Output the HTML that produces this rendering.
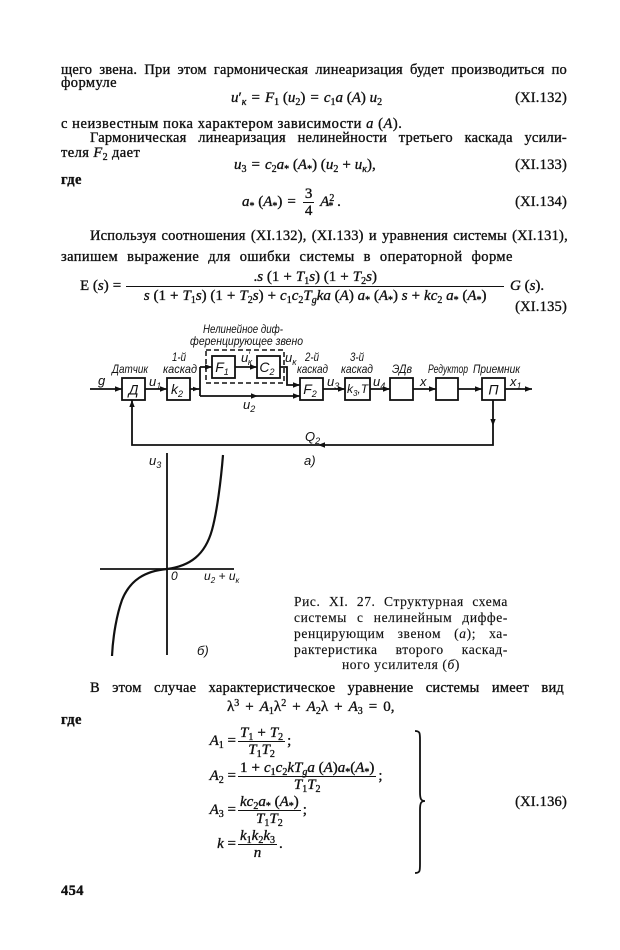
<!DOCTYPE html>
<html><head><meta charset="utf-8">
<style>
html,body{margin:0;padding:0;background:#fff;}
#p{position:relative;width:620px;height:950px;overflow:hidden;background:#fff;color:#111;font-family:"Liberation Serif","DejaVu Serif",serif;font-size:14.5px;-webkit-text-stroke:0.35px #111;}
.t{position:absolute;line-height:16px;height:16px;white-space:nowrap;letter-spacing:0.4px;}
.f{display:flex;justify-content:space-between;letter-spacing:0.2px;}
.f>span{white-space:nowrap;}
.m{font-size:15px;letter-spacing:0;}
i{font-style:italic;}
sub{font-size:10px;vertical-align:-3px;line-height:0;}
sup{font-size:10px;vertical-align:5px;line-height:0;}
.op{padding:0 5px;}
.op6{padding:0 6px;}
.op4{padding:0 4px;}
.eq{position:absolute;display:flex;align-items:center;white-space:nowrap;font-size:15px;}
.eq>span{line-height:16px;}
.fr{display:flex;flex-direction:column;align-items:center;margin:0 2px;}
.fr>.n{line-height:16px;padding:0 2px;}
.fr>.d{line-height:16px;padding:0 2px;border-top:1.2px solid #111;align-self:stretch;text-align:center;}
.big>.n,.big>.d{line-height:18px;}
.c{position:absolute;font-size:13.5px;line-height:16px;height:16px;display:flex;justify-content:space-between;letter-spacing:0.6px;-webkit-text-stroke:0.15px #111;}
.c>span{white-space:nowrap;}
.b{font-weight:bold;}
svg text{font-family:"Liberation Sans","DejaVu Sans",sans-serif;font-style:italic;fill:#111;stroke:none;}
</style></head><body><div id="p">

<div class="t f" style="left:61px;top:61.5px;width:506px"><span>щего</span><span>звена.</span><span>При</span><span>этом</span><span>гармоническая</span><span>линеаризация</span><span>будет</span><span>производиться</span><span>по</span></div>
<div class="t" style="left:61px;top:74.5px">формуле</div>
<div class="t m" style="left:231px;top:89.5px"><i>u</i>′<sub><i>к</i></sub><span class="op">=</span><i>F</i><sub>1</sub> (<i>u</i><sub>2</sub>)<span class="op">=</span><i>c</i><sub>1</sub><i>a</i> (<i>A</i>) <i>u</i><sub>2</sub></div>
<div class="t" style="right:53px;top:89.5px;letter-spacing:0.2px">(XI.132)</div>

<div class="t" style="left:61px;top:115.5px;letter-spacing:0.55px">с неизвестным пока характером зависимости <i>a</i> (<i>A</i>).</div>
<div class="t f" style="left:90px;top:129.5px;width:477px"><span>Гармоническая</span><span>линеаризация</span><span>нелинейности</span><span>третьего</span><span>каскада</span><span>усили-</span></div>
<div class="t" style="left:61px;top:144.5px">теля <i>F</i><sub>2</sub> дает</div>
<div class="t m" style="left:234px;top:156.5px"><i>u</i><sub>3</sub><span class="op">=</span><i>c</i><sub>2</sub><i>a</i><sub>*</sub> (<i>A</i><sub>*</sub>) (<i>u</i><sub>2</sub><span class="op4">+</span><i>u</i><sub><i>к</i></sub>),</div>
<div class="t" style="right:53px;top:156.5px;letter-spacing:0.2px">(XI.133)</div>
<div class="t b" style="left:61px;top:171.5px">где</div>

<div class="eq" style="left:242px;top:185.5px"><span><i>a</i><sub>*</sub> (<i>A</i><sub>*</sub>)<span class="op">=</span></span><span class="fr"><span class="n">3</span><span class="d">4</span></span><span>&nbsp;<i>A</i><sup>2</sup><sub style="margin-left:-6px">*</sub>&nbsp;.</span></div>
<div class="t" style="right:53px;top:193.5px;letter-spacing:0.2px">(XI.134)</div>

<div class="t f" style="left:90px;top:227.5px;width:478px"><span>Используя</span><span>соотношения</span><span>(XI.132),</span><span>(XI.133)</span><span>и</span><span>уравнения</span><span>системы</span><span>(XI.131),</span></div>
<div class="t" style="left:61px;top:248.5px;word-spacing:5px">запишем выражение для ошибки системы в операторной форме</div>

<div class="eq" style="left:80px;top:267.5px"><span>Е (<i>s</i>)<span style="padding:0 3px 0 4px">=</span></span><span class="fr big" style="min-width:378px"><span class="n">.<i>s</i> (1<span class="op4">+</span><i>T</i><sub>1</sub><i>s</i>) (1<span class="op4">+</span><i>T</i><sub>2</sub><i>s</i>)</span><span class="d"><i>s</i> (1<span class="op4">+</span><i>T</i><sub>1</sub><i>s</i>) (1<span class="op4">+</span><i>T</i><sub>2</sub><i>s</i>)<span class="op4">+</span><i>c</i><sub>1</sub><i>c</i><sub>2</sub><i>T</i><sub><i>g</i></sub><i>ka</i> (<i>A</i>) <i>a</i><sub>*</sub> (<i>A</i><sub>*</sub>) <i>s</i><span class="op4">+</span><i>kc</i><sub>2</sub> <i>a</i><sub>*</sub> (<i>A</i><sub>*</sub>)</span></span><span>&nbsp;<i>G</i> (<i>s</i>).</span></div>
<div class="t" style="right:53px;top:298.5px;letter-spacing:0.2px">(XI.135)</div>

<svg width="620" height="950" style="position:absolute;left:0;top:0">
<g stroke="#111" stroke-width="1.8" fill="none">
<path d="M90 389H122 M145 389H167 M190 389H200 M200 367V396 M200 367H212 M235 367H257 M280 367H287V385H300 M200 396H300 M323 389H345 M370 389H390 M413 389H436 M458 389H482 M505 389H532 M493 400V445H132V400"/>
<rect x="122" y="378" width="23" height="22"/>
<rect x="167" y="378" width="23" height="22"/>
<rect x="212" y="356" width="23" height="22"/>
<rect x="257" y="356" width="23" height="22"/>
<rect x="300" y="378" width="23" height="22"/>
<rect x="345" y="378" width="25" height="22"/>
<rect x="390" y="378" width="23" height="22"/>
<rect x="436" y="378" width="22" height="22"/>
<rect x="482" y="378" width="23" height="22"/>
<rect x="206" y="350" width="78" height="33" stroke-dasharray="5 3" stroke-width="1.5"/>
<path d="M167 453V655 M100 569H234"/>
<path d="M112 656 C113 635 117 614 122 600 C130 580 145 571 167 569 C190 566 205 555 212 530 C217 512 221 480 223 455" stroke-width="2.2"/>
<path d="M415 731 C420 731 420 733 420 740 L420 792 C420 799 421 801 425 801 C421 801 420 803 420 810 L420 864 C420 871 420 873 415 873" stroke-width="1.8"/>
</g>
<g fill="#111">
<polygon points="122,389 115,386.3 115,391.7"/>
<polygon points="167,389 160,386.3 160,391.7"/>
<polygon points="199,389 193,386.8 193,391.2"/>
<polygon points="212,367 205,364.3 205,369.7"/>
<polygon points="257,367 250,364.3 250,369.7"/>
<polygon points="300,385 293,382.3 293,387.7"/>
<polygon points="300,396 293,393.3 293,398.7"/>
<polygon points="258,396 251,393.3 251,398.7"/>
<polygon points="345,389 338,386.3 338,391.7"/>
<polygon points="390,389 383,386.3 383,391.7"/>
<polygon points="436,389 429,386.3 429,391.7"/>
<polygon points="482,389 475,386.3 475,391.7"/>
<polygon points="532,389 525,386.3 525,391.7"/>
<polygon points="493,426 490.3,419 495.7,419"/>
<polygon points="318,445 325,442.3 325,447.7"/>
<polygon points="132,400 129.3,407 134.7,407"/>
</g>
<g font-size="12">
<text x="203" y="333" textLength="80" lengthAdjust="spacingAndGlyphs">Нелинейное диф-</text>
<text x="190" y="345" textLength="113" lengthAdjust="spacingAndGlyphs">ференцирующее звено</text>
<text x="172" y="361" textLength="14" lengthAdjust="spacingAndGlyphs">1-й</text>
<text x="163" y="373" textLength="34" lengthAdjust="spacingAndGlyphs">каскад</text>
<text x="112" y="373" textLength="36" lengthAdjust="spacingAndGlyphs">Датчик</text>
<text x="305" y="361" textLength="14" lengthAdjust="spacingAndGlyphs">2-й</text>
<text x="297" y="373" textLength="31" lengthAdjust="spacingAndGlyphs">каскад</text>
<text x="350" y="361" textLength="14" lengthAdjust="spacingAndGlyphs">3-й</text>
<text x="341" y="373" textLength="32" lengthAdjust="spacingAndGlyphs">каскад</text>
<text x="392" y="373" textLength="20" lengthAdjust="spacingAndGlyphs">ЭДв</text>
<text x="428" y="373" textLength="40" lengthAdjust="spacingAndGlyphs">Редуктор</text>
<text x="473" y="373" textLength="47" lengthAdjust="spacingAndGlyphs">Приемник</text>
<text x="98" y="385" font-size="13">g</text>
<text x="149" y="386" font-size="13">u<tspan font-size="9" dy="3">1</tspan></text>
<text x="241" y="362" font-size="13">u<tspan font-size="9" dy="-4">′</tspan><tspan font-size="9" dy="7" dx="-2">к</tspan></text>
<text x="285" y="362" font-size="13">u<tspan font-size="9" dy="3">к</tspan></text>
<text x="243" y="409" font-size="13">u<tspan font-size="9" dy="3">2</tspan></text>
<text x="327" y="386" font-size="13">u<tspan font-size="9" dy="3">3</tspan></text>
<text x="373" y="386" font-size="13">u<tspan font-size="9" dy="3">4</tspan></text>
<text x="420" y="386" font-size="13">x</text>
<text x="510" y="386" font-size="13">x<tspan font-size="9" dy="3">1</tspan></text>
<text x="305" y="441" font-size="13">Q<tspan font-size="9" dy="3">2</tspan></text>
<text x="304" y="465" font-size="13">а)</text>
<text x="133.5" y="394.5" font-size="14" text-anchor="middle">Д</text>
<text x="177" y="394" font-size="14" text-anchor="middle">k<tspan font-size="9" dy="3">2</tspan></text>
<text x="222" y="372" font-size="14" text-anchor="middle">F<tspan font-size="9" dy="3">1</tspan></text>
<text x="267" y="372" font-size="14" text-anchor="middle">C<tspan font-size="9" dy="3">2</tspan></text>
<text x="310" y="394" font-size="14" text-anchor="middle">F<tspan font-size="9" dy="3">2</tspan></text>
<text x="357.5" y="393" font-size="12" text-anchor="middle">k<tspan font-size="8" dy="3">3</tspan><tspan dy="-3">,T</tspan></text>
<text x="493.5" y="394.5" font-size="14" text-anchor="middle">П</text>
<text x="149" y="465" font-size="13">u<tspan font-size="9" dy="3">3</tspan></text>
<text x="171" y="580" font-size="12">0</text>
<text x="204" y="580" font-size="12">u<tspan font-size="8" dy="3">2</tspan><tspan dy="-3"> + u</tspan><tspan font-size="8" dy="3">к</tspan></text>
<text x="197" y="655" font-size="13">б)</text>
</g>
</svg>

<div class="c" style="left:294px;top:594px;width:214px"><span>Рис.</span><span>XI.</span><span>27.</span><span>Структурная</span><span>схема</span></div>
<div class="c" style="left:294px;top:610px;width:214px"><span>системы</span><span>с</span><span>нелинейным</span><span>диффе-</span></div>
<div class="c" style="left:294px;top:626px;width:214px"><span>ренцирующим</span><span>звеном</span><span>(<i>а</i>);</span><span>ха-</span></div>
<div class="c" style="left:294px;top:642px;width:214px"><span>рактеристика</span><span>второго</span><span>каскад-</span></div>
<div class="c" style="left:294px;top:657px;width:214px;justify-content:center"><span>ного усилителя (<i>б</i>)</span></div>

<div class="t f" style="left:90px;top:679.5px;width:474px"><span>В</span><span>этом</span><span>случае</span><span>характеристическое</span><span>уравнение</span><span>системы</span><span>имеет</span><span>вид</span></div>
<div class="t m" style="left:227px;top:698.5px">λ<sup>3</sup><span class="op6">+</span><i>A</i><sub>1</sub>λ<sup>2</sup><span class="op6">+</span><i>A</i><sub>2</sub>λ<span class="op6">+</span><i>A</i><sub>3</sub><span class="op6">=</span>0,</div>
<div class="t b" style="left:61px;top:711.5px">где</div>

<div class="eq" style="left:196px;top:724.5px"><span style="display:inline-block;width:40px;text-align:right"><i>A</i><sub>1</sub>&nbsp;=</span><span class="fr"><span class="n"><i>T</i><sub>1</sub><span class="op4">+</span><i>T</i><sub>2</sub></span><span class="d"><i>T</i><sub>1</sub><i>T</i><sub>2</sub></span></span><span>;</span></div>
<div class="eq" style="left:196px;top:759.5px"><span style="display:inline-block;width:40px;text-align:right"><i>A</i><sub>2</sub>&nbsp;=</span><span class="fr"><span class="n">1<span class="op4">+</span><i>c</i><sub>1</sub><i>c</i><sub>2</sub><i>kT</i><sub><i>g</i></sub><i>a</i> (<i>A</i>)<i>a</i><sub>*</sub>(<i>A</i><sub>*</sub>)</span><span class="d"><i>T</i><sub>1</sub><i>T</i><sub>2</sub></span></span><span>;</span></div>
<div class="eq" style="left:196px;top:793.5px"><span style="display:inline-block;width:40px;text-align:right"><i>A</i><sub>3</sub>&nbsp;=</span><span class="fr"><span class="n"><i>kc</i><sub>2</sub><i>a</i><sub>*</sub> (<i>A</i><sub>*</sub>)</span><span class="d"><i>T</i><sub>1</sub><i>T</i><sub>2</sub></span></span><span>;</span></div>
<div class="eq" style="left:196px;top:827.5px"><span style="display:inline-block;width:40px;text-align:right"><i>k</i>&nbsp;=</span><span class="fr"><span class="n"><i>k</i><sub>1</sub><i>k</i><sub>2</sub><i>k</i><sub>3</sub></span><span class="d"><i>n</i></span></span><span>.</span></div>
<div class="t" style="right:53px;top:793.5px;letter-spacing:0.2px">(XI.136)</div>

<div class="t b" style="left:61px;top:882.5px">454</div>

</div></body></html>
